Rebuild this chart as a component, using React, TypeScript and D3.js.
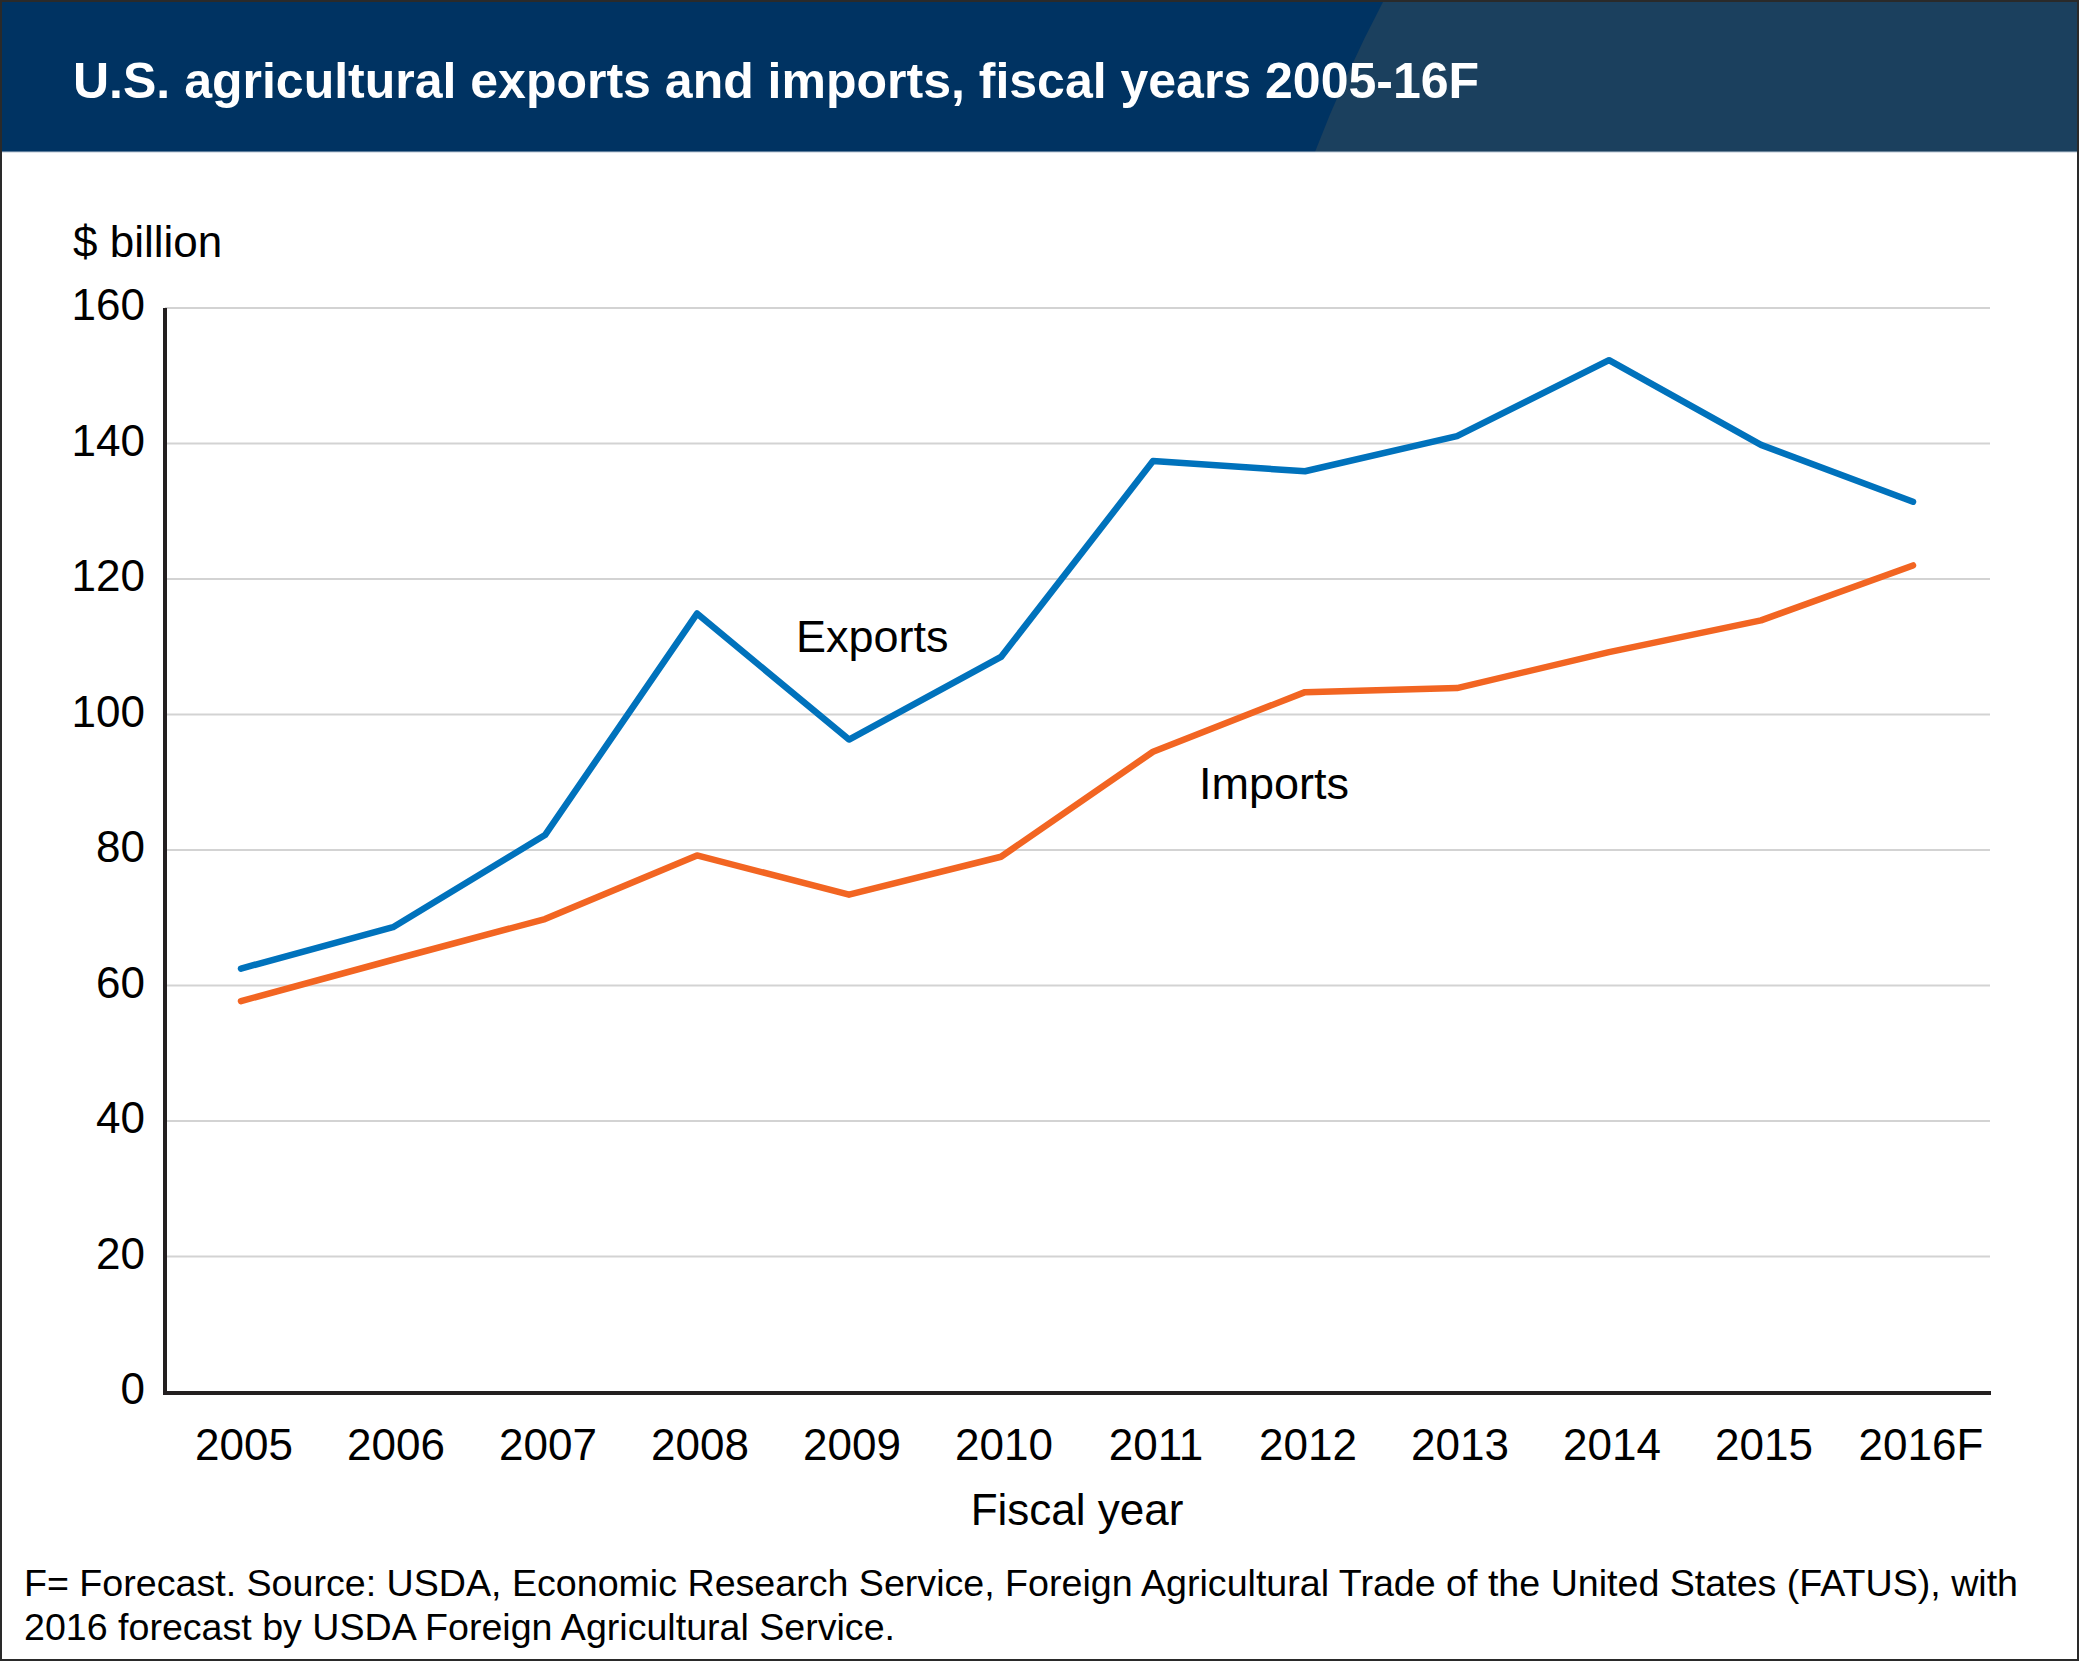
import React, { useEffect } from "react";
import * as d3 from "d3";

const years = ["2005", "2006", "2007", "2008", "2009", "2010", "2011", "2012", "2013", "2014", "2015", "2016F"];
const exportsVals = [62.5, 68.6, 82.2, 114.9, 96.3, 108.5, 137.4, 135.9, 141.1, 152.3, 139.8, 131.4];
const importsVals = [57.7, 63.8, 69.8, 79.2, 73.4, 79.0, 94.5, 103.3, 103.9, 109.2, 113.9, 122.0];
const yTicks = [0, 20, 40, 60, 80, 100, 120, 140, 160];

const W = 2079;
const H = 1663;
const FONT = "'Liberation Sans', Arial, Helvetica, sans-serif";

export default function App() {
  useEffect(() => {
    document.body.style.margin = "0";
  }, []);

  const x = d3.scalePoint<string>().domain(years).range([165, 1989]).padding(0.5);
  const y = d3.scaleLinear().domain([0, 160]).range([1392, 308]);

  const line = d3
    .line<number>()
    .x((_, i) => x(years[i]) as number)
    .y((d) => y(d));

  return (
    <svg width={W} height={H} style={{ position: "absolute", left: 0, top: 0, background: "#fff" }} fontFamily={FONT}>
      <rect x={0} y={0} width={W} height={H} fill="#fff" />
      {/* header */}
      <rect x={0} y={0} width={W} height={152} fill="#003362" />
      <path d="M1384,0 Q1344,76 1315,152 L2079,152 L2079,0 Z" fill="#1b405e" />
      <line x1={0} x2={W} y1={152} y2={152} stroke="#b9c6d3" strokeWidth={1} />
      <text x={73} y={98} fill="#fff" fontSize={50} fontWeight="bold">
        U.S. agricultural exports and imports, fiscal years 2005-16F
      </text>

      {/* y unit */}
      <text x={73} y={257} fontSize={44} fill="#000">$ billion</text>

      {/* gridlines */}
      {yTicks.filter((t) => t > 0).map((t) => (
        <line key={t} x1={165} x2={1990} y1={y(t)} y2={y(t)} stroke="#d3d3d3" strokeWidth={2} />
      ))}
      {/* y tick labels */}
      {yTicks.map((t) => (
        <text key={t} x={145} y={y(t) + 12} fontSize={44} textAnchor="end" fill="#000">
          {t}
        </text>
      ))}

      {/* axes */}
      <line x1={165} x2={165} y1={308} y2={1394} stroke="#231f20" strokeWidth={4} />
      <line x1={163} x2={1991} y1={1393} y2={1393} stroke="#231f20" strokeWidth={4} />

      {/* x tick labels */}
      {years.map((yr) => (
        <text key={yr} x={(x(yr) as number) + (yr === "2016F" ? 8 : 3)} y={1460} fontSize={44} textAnchor="middle" fill="#000">
          {yr}
        </text>
      ))}
      <text x={1077} y={1525} fontSize={44} textAnchor="middle" fill="#000">Fiscal year</text>

      {/* series */}
      <path d={line(exportsVals) ?? ""} fill="none" stroke="#0072bc" strokeWidth={6.5} strokeLinecap="round" strokeLinejoin="round" />
      <path d={line(importsVals) ?? ""} fill="none" stroke="#f26522" strokeWidth={6.5} strokeLinecap="round" strokeLinejoin="round" />

      <text x={796} y={652} fontSize={45} fill="#000">Exports</text>
      <text x={1199} y={799} fontSize={45} fill="#000">Imports</text>

      {/* footnote */}
      <text x={24} y={1596} fontSize={37} fill="#000" textLength={1994} lengthAdjust="spacingAndGlyphs">
        F= Forecast. Source: USDA, Economic Research Service, Foreign Agricultural Trade of the United States (FATUS), with
      </text>
      <text x={24} y={1640} fontSize={37} fill="#000" textLength={871} lengthAdjust="spacingAndGlyphs">
        2016 forecast by USDA Foreign Agricultural Service.
      </text>

      {/* outer border */}
      <rect x={1} y={1} width={W - 2} height={1659} fill="none" stroke="#2a2a2a" strokeWidth={2} />
    </svg>
  );
}
